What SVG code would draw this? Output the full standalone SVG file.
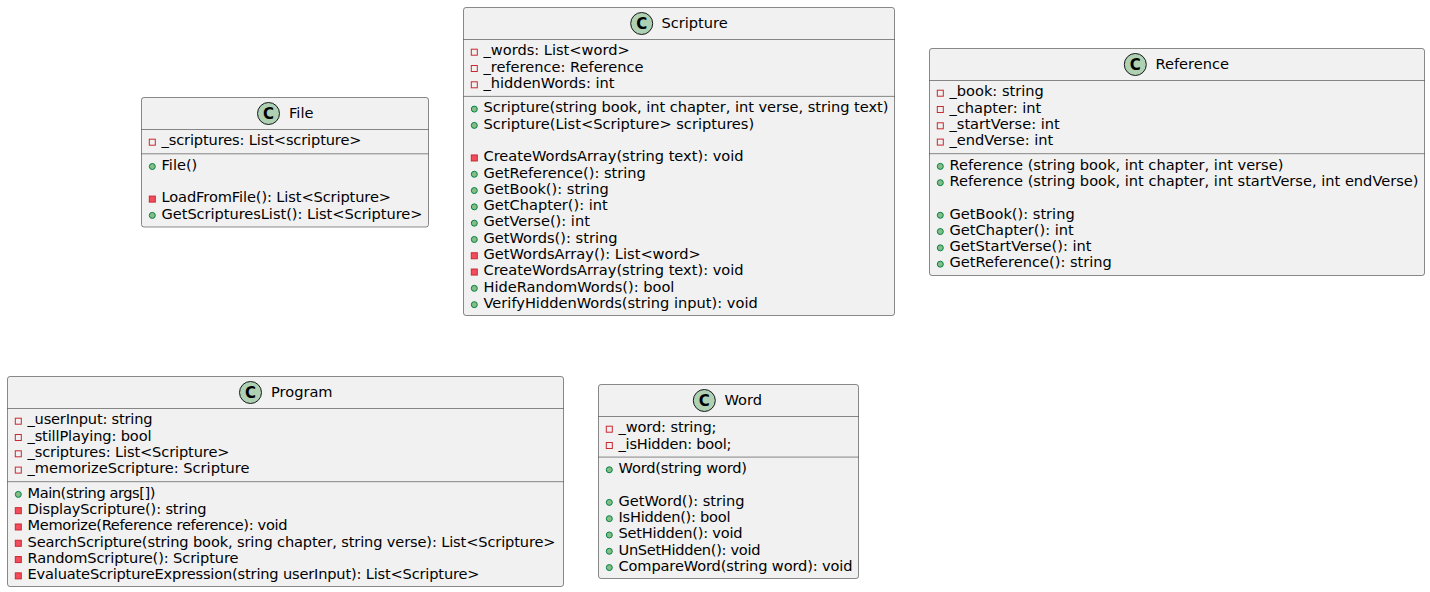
<svg xmlns="http://www.w3.org/2000/svg" width="1430" height="592" viewBox="0 0 1430 592">
<style>
.box{fill:#F1F1F1;stroke:#181818;stroke-width:0.5}
.sep{stroke:#181818;stroke-width:0.5}
.ci{fill:#ADD1B2;stroke:#181818;stroke-width:1}
.cl{font-family:"DejaVu Sans",sans-serif;font-size:15px;font-weight:bold;fill:#000;text-anchor:middle}
.nm{font-family:"DejaVu Sans",sans-serif;font-size:14.6px;fill:#000}
.mb{font-family:"DejaVu Sans",sans-serif;font-size:14.6px;fill:#000}
.pa{fill:none;stroke:#C82930;stroke-width:1}
.pm{fill:#F24D5C;stroke:#C82930;stroke-width:1}
.pu{fill:#84BE84;stroke:#038048;stroke-width:1}
</style>
<rect width="1430" height="592" fill="#FFFFFF"/>
<g id="connectors"/>

<g id="File">
<rect class="box" x="141.5" y="97.5" width="287" height="129.5" rx="2.5" ry="2.5"/>
<circle class="ci" cx="268.5" cy="113.5" r="11"/>
<text class="cl" x="268.5" y="118.8">C</text>
<text class="nm" x="289" y="118.3">File</text>
<line class="sep" x1="141.5" y1="129.5" x2="428.5" y2="129.5"/>
<rect class="pa" x="149.3" y="139.2" width="6" height="6"/>
<text class="mb" x="161.5" y="145.49" textLength="200">_scriptures: List&lt;scripture&gt;</text>
<line class="sep" x1="141.5" y1="153.8" x2="428.5" y2="153.8"/>
<circle class="pu" cx="152.3" cy="166.5" r="3"/>
<text class="mb" x="161.5" y="169.79">File()</text>
<rect class="pm" x="149.3" y="196.1" width="6" height="6"/>
<text class="mb" x="161.5" y="202.39" textLength="229.5">LoadFromFile(): List&lt;Scripture&gt;</text>
<circle class="pu" cx="152.3" cy="215.4" r="3"/>
<text class="mb" x="161.5" y="218.69" textLength="261">GetScripturesList(): List&lt;Scripture&gt;</text>
</g>

<g id="Scripture">
<rect class="box" x="463.5" y="7.5" width="431" height="308" rx="2.5" ry="2.5"/>
<circle class="ci" cx="641.7" cy="23.5" r="11"/>
<text class="cl" x="641.7" y="28.8">C</text>
<text class="nm" x="661.5" y="28.3">Scripture</text>
<line class="sep" x1="463.5" y1="39.5" x2="894.5" y2="39.5"/>
<rect class="pa" x="471.3" y="49.2" width="6" height="6"/>
<text class="mb" x="483.5" y="55.49">_words: List&lt;word&gt;</text>
<rect class="pa" x="471.3" y="65.5" width="6" height="6"/>
<text class="mb" x="483.5" y="71.79">_reference: Reference</text>
<rect class="pa" x="471.3" y="81.8" width="6" height="6"/>
<text class="mb" x="483.5" y="88.09">_hiddenWords: int</text>
<line class="sep" x1="463.5" y1="96.39" x2="894.5" y2="96.39"/>
<circle class="pu" cx="474.3" cy="109.1" r="3"/>
<text class="mb" x="483.5" y="112.38" textLength="405">Scripture(string book, int chapter, int verse, string text)</text>
<circle class="pu" cx="474.3" cy="125.4" r="3"/>
<text class="mb" x="483.5" y="128.68">Scripture(List&lt;Scripture&gt; scriptures)</text>
<rect class="pm" x="471.3" y="154.97" width="6" height="6"/>
<text class="mb" x="483.5" y="161.27">CreateWordsArray(string text): void</text>
<circle class="pu" cx="474.3" cy="174.27" r="3"/>
<text class="mb" x="483.5" y="177.57">GetReference(): string</text>
<circle class="pu" cx="474.3" cy="190.57" r="3"/>
<text class="mb" x="483.5" y="193.87">GetBook(): string</text>
<circle class="pu" cx="474.3" cy="206.86" r="3"/>
<text class="mb" x="483.5" y="210.16">GetChapter(): int</text>
<circle class="pu" cx="474.3" cy="223.16" r="3"/>
<text class="mb" x="483.5" y="226.46">GetVerse(): int</text>
<circle class="pu" cx="474.3" cy="239.46" r="3"/>
<text class="mb" x="483.5" y="242.76">GetWords(): string</text>
<rect class="pm" x="471.3" y="252.76" width="6" height="6"/>
<text class="mb" x="483.5" y="259.06">GetWordsArray(): List&lt;word&gt;</text>
<rect class="pm" x="471.3" y="269.05" width="6" height="6"/>
<text class="mb" x="483.5" y="275.35">CreateWordsArray(string text): void</text>
<circle class="pu" cx="474.3" cy="288.35" r="3"/>
<text class="mb" x="483.5" y="291.65">HideRandomWords(): bool</text>
<circle class="pu" cx="474.3" cy="304.65" r="3"/>
<text class="mb" x="483.5" y="307.95">VerifyHiddenWords(string input): void</text>
</g>

<g id="Reference">
<rect class="box" x="929.5" y="48.5" width="495" height="227" rx="2.5" ry="2.5"/>
<circle class="ci" cx="1135.3" cy="64.5" r="11"/>
<text class="cl" x="1135.3" y="69.8">C</text>
<text class="nm" x="1155.5" y="69.3">Reference</text>
<line class="sep" x1="929.5" y1="80.5" x2="1424.5" y2="80.5"/>
<rect class="pa" x="937.3" y="90.2" width="6" height="6"/>
<text class="mb" x="949.5" y="96.49">_book: string</text>
<rect class="pa" x="937.3" y="106.5" width="6" height="6"/>
<text class="mb" x="949.5" y="112.79">_chapter: int</text>
<rect class="pa" x="937.3" y="122.8" width="6" height="6"/>
<text class="mb" x="949.5" y="129.09">_startVerse: int</text>
<rect class="pa" x="937.3" y="139.1" width="6" height="6"/>
<text class="mb" x="949.5" y="145.38">_endVerse: int</text>
<line class="sep" x1="929.5" y1="153.69" x2="1424.5" y2="153.69"/>
<circle class="pu" cx="940.3" cy="166.38" r="3"/>
<text class="mb" x="949.5" y="169.68">Reference (string book, int chapter, int verse)</text>
<circle class="pu" cx="940.3" cy="182.68" r="3"/>
<text class="mb" x="949.5" y="185.98" textLength="469">Reference (string book, int chapter, int startVerse, int endVerse)</text>
<circle class="pu" cx="940.3" cy="215.27" r="3"/>
<text class="mb" x="949.5" y="218.57">GetBook(): string</text>
<circle class="pu" cx="940.3" cy="231.57" r="3"/>
<text class="mb" x="949.5" y="234.87">GetChapter(): int</text>
<circle class="pu" cx="940.3" cy="247.87" r="3"/>
<text class="mb" x="949.5" y="251.17">GetStartVerse(): int</text>
<circle class="pu" cx="940.3" cy="264.17" r="3"/>
<text class="mb" x="949.5" y="267.47">GetReference(): string</text>
</g>

<g id="Program">
<rect class="box" x="7.5" y="376.5" width="556" height="210" rx="2.5" ry="2.5"/>
<circle class="ci" cx="250.5" cy="392.5" r="11"/>
<text class="cl" x="250.5" y="397.8">C</text>
<text class="nm" x="271" y="397.3">Program</text>
<line class="sep" x1="7.5" y1="408.5" x2="563.5" y2="408.5"/>
<rect class="pa" x="15.3" y="418.2" width="6" height="6"/>
<text class="mb" x="27.5" y="424.49" textLength="125">_userInput: string</text>
<rect class="pa" x="15.3" y="434.5" width="6" height="6"/>
<text class="mb" x="27.5" y="440.79" textLength="124">_stillPlaying: bool</text>
<rect class="pa" x="15.3" y="450.8" width="6" height="6"/>
<text class="mb" x="27.5" y="457.09" textLength="202">_scriptures: List&lt;Scripture&gt;</text>
<rect class="pa" x="15.3" y="467.1" width="6" height="6"/>
<text class="mb" x="27.5" y="473.38" textLength="222">_memorizeScripture: Scripture</text>
<line class="sep" x1="7.5" y1="481.69" x2="563.5" y2="481.69"/>
<circle class="pu" cx="18.3" cy="494.38" r="3"/>
<text class="mb" x="27.5" y="497.68" textLength="128">Main(string args[])</text>
<rect class="pm" x="15.3" y="507.68" width="6" height="6"/>
<text class="mb" x="27.5" y="513.98" textLength="179">DisplayScripture(): string</text>
<rect class="pm" x="15.3" y="523.98" width="6" height="6"/>
<text class="mb" x="27.5" y="530.28" textLength="260">Memorize(Reference reference): void</text>
<rect class="pm" x="15.3" y="540.27" width="6" height="6"/>
<text class="mb" x="27.5" y="546.57" textLength="528">SearchScripture(string book, sring chapter, string verse): List&lt;Scripture&gt;</text>
<rect class="pm" x="15.3" y="556.57" width="6" height="6"/>
<text class="mb" x="27.5" y="562.87" textLength="211">RandomScripture(): Scripture</text>
<rect class="pm" x="15.3" y="572.87" width="6" height="6"/>
<text class="mb" x="27.5" y="579.17" textLength="452">EvaluateScriptureExpression(string userInput): List&lt;Scripture&gt;</text>
</g>

<g id="Word">
<rect class="box" x="598.5" y="384.5" width="260" height="194" rx="2.5" ry="2.5"/>
<circle class="ci" cx="704.3" cy="400.5" r="11"/>
<text class="cl" x="704.3" y="405.8">C</text>
<text class="nm" x="724.5" y="405.3">Word</text>
<line class="sep" x1="598.5" y1="416.5" x2="858.5" y2="416.5"/>
<rect class="pa" x="606.3" y="426.2" width="6" height="6"/>
<text class="mb" x="618.5" y="432.49" textLength="98">_word: string;</text>
<rect class="pa" x="606.3" y="442.5" width="6" height="6"/>
<text class="mb" x="618.5" y="448.79" textLength="113">_isHidden: bool;</text>
<line class="sep" x1="598.5" y1="457.09" x2="858.5" y2="457.09"/>
<circle class="pu" cx="609.3" cy="469.78" r="3"/>
<text class="mb" x="618.5" y="473.08" textLength="128.5">Word(string word)</text>
<circle class="pu" cx="609.3" cy="502.38" r="3"/>
<text class="mb" x="618.5" y="505.68" textLength="126">GetWord(): string</text>
<circle class="pu" cx="609.3" cy="518.68" r="3"/>
<text class="mb" x="618.5" y="521.98" textLength="112">IsHidden(): bool</text>
<circle class="pu" cx="609.3" cy="534.97" r="3"/>
<text class="mb" x="618.5" y="538.27" textLength="124">SetHidden(): void</text>
<circle class="pu" cx="609.3" cy="551.27" r="3"/>
<text class="mb" x="618.5" y="554.57" textLength="142">UnSetHidden(): void</text>
<circle class="pu" cx="609.3" cy="567.57" r="3"/>
<text class="mb" x="618.5" y="570.87" textLength="234">CompareWord(string word): void</text>
</g>
</svg>
